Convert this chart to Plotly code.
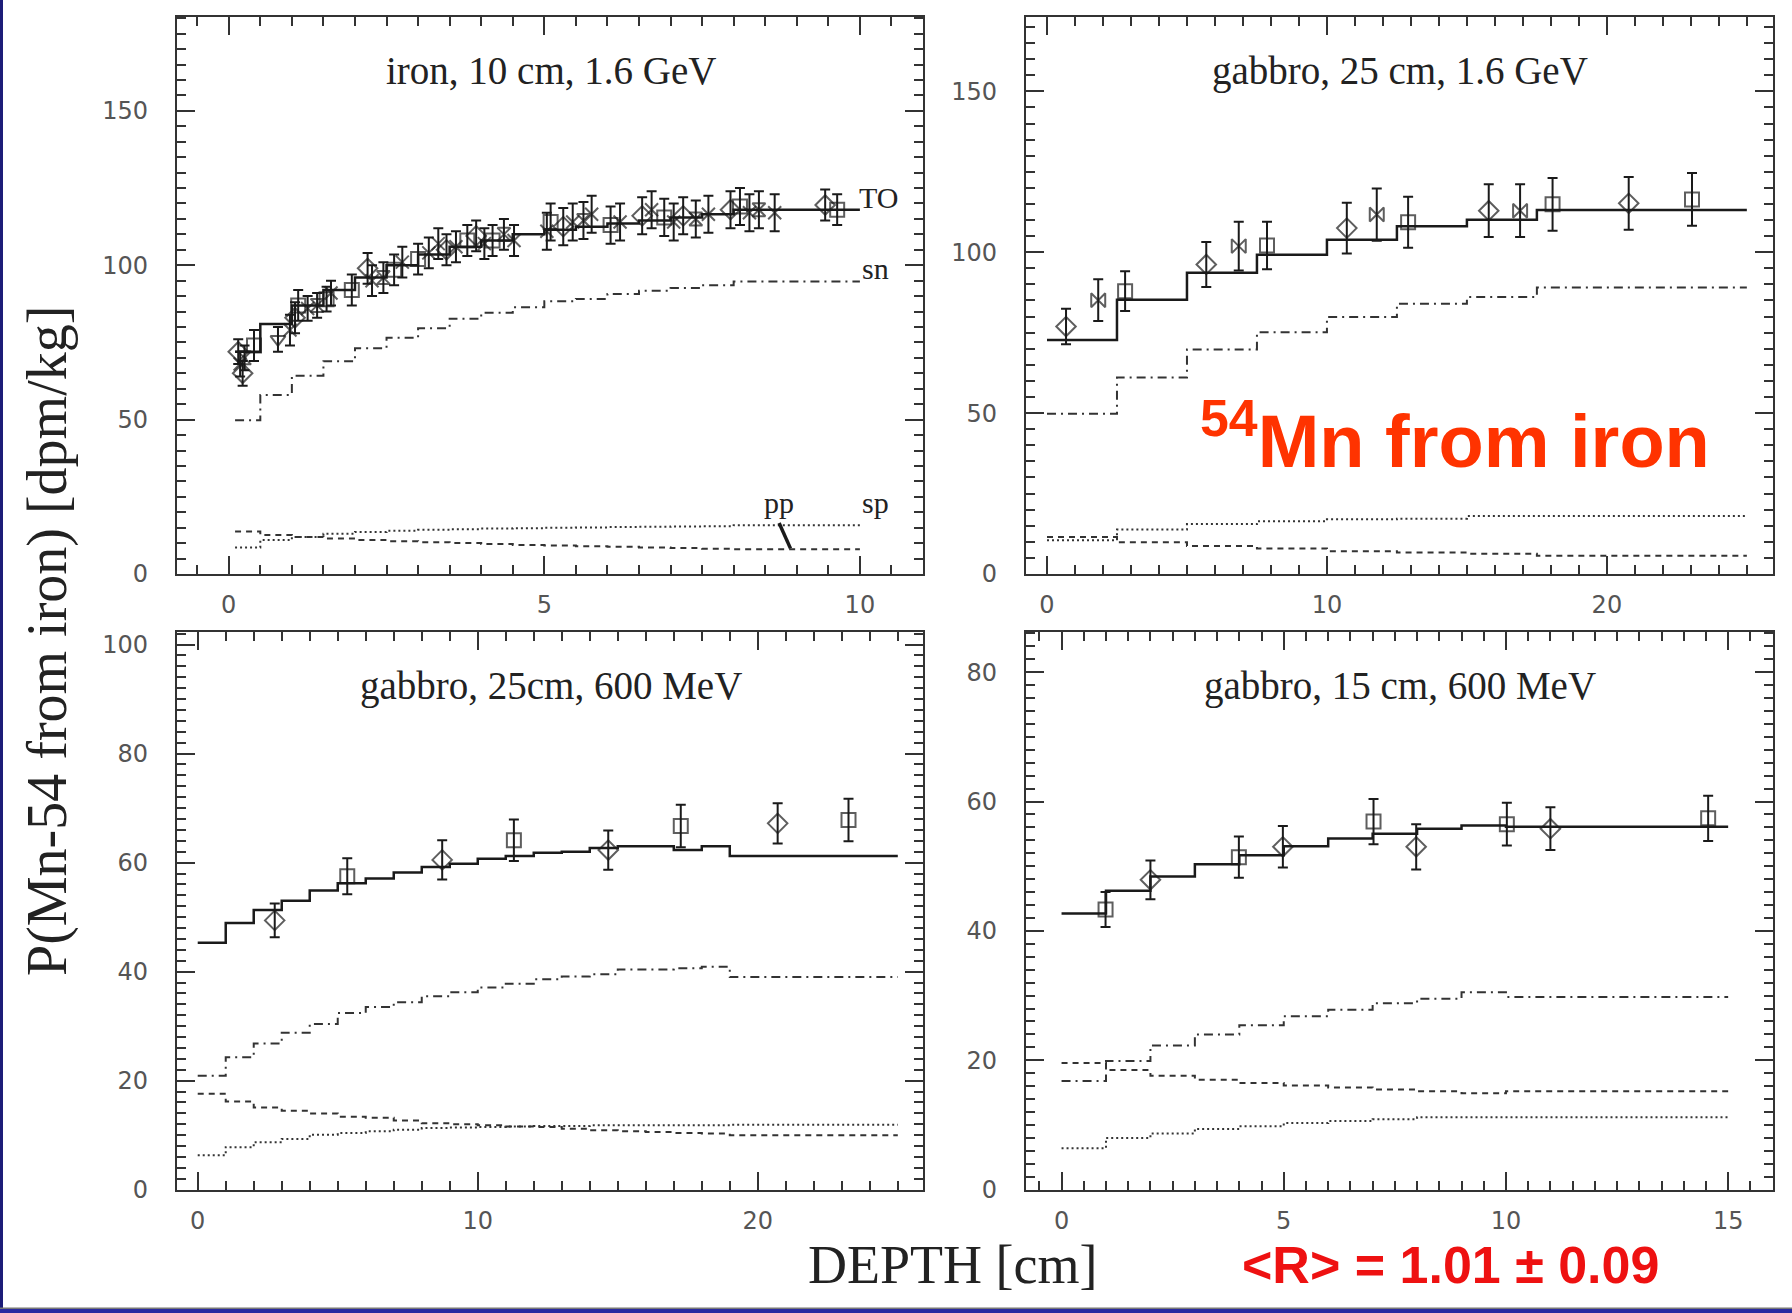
import plotly.graph_objects as go
from plotly.subplots import make_subplots

W, H = 1792, 1313

# ---------------- data ----------------
# Panel 1: iron, 10 cm, 1.6 GeV
edges1 = [0.1, 0.5, 1, 1.5, 2, 2.5, 3, 3.5, 4, 4.5, 5, 5.5, 6, 6.5, 7, 7.5, 8, 10]
to1 = [72, 81, 87, 92, 96, 100, 103.5, 106, 108, 110, 111.5, 112.5, 113.5, 114.5, 115.5, 116.5, 118]
sn1 = [49.8, 58, 64.2, 68.9, 73.1, 76.5, 79.6, 82.7, 84.6, 86.4, 88.3, 89.1, 90.7, 91.7, 92.6, 93.5, 94.7]
pp1 = [13.8, 12.6, 12.0, 11.5, 11.0, 10.6, 10.3, 10.0, 9.7, 9.4, 9.2, 9.0, 8.8, 8.6, 8.4, 8.2, 8.0]
sp1 = [8.6, 11.0, 12.0, 13.0, 13.6, 14.0, 14.3, 14.5, 14.7, 14.8, 15.0, 15.1, 15.2, 15.3, 15.4, 15.5, 15.8]
px1 = [0.15, 0.18, 0.22, 0.25, 0.4, 0.78, 0.97, 1.05, 1.1, 1.25, 1.4, 1.55, 1.62, 1.95, 2.2, 2.27,
       2.45, 2.62, 2.75, 3.0, 3.17, 3.32, 3.45, 3.6, 3.78, 3.92, 4.05, 4.18, 4.36, 4.52, 5.04, 5.1,
       5.3, 5.45, 5.62, 5.75, 6.05, 6.2, 6.55, 6.7, 6.9, 7.05, 7.2, 7.4, 7.6, 7.95, 8.1, 8.25, 8.4,
       8.65, 9.45, 9.64]
py1 = [72, 68, 65, 70, 74, 76, 79, 83, 87, 86, 87, 89, 91, 92, 99, 95,
       96, 98.5, 101, 102, 104, 107, 105, 106, 108, 109.5, 107, 108, 110, 108, 111, 114,
       112.5, 114, 114.5, 116.5, 113, 114, 116, 118, 115.5, 114, 116, 115, 116.5, 118, 119, 117, 118,
       117, 119.5, 118]
pe1 = [4, 4, 4, 4, 5, 4, 5, 5, 5, 4, 4, 4, 4, 5, 5, 5,
       5, 5, 5, 5, 5, 5, 5, 5, 5, 5, 5, 5, 5, 5, 6, 6,
       6, 6, 6, 6, 6, 6, 6, 6, 6, 6, 6, 6, 6, 6, 6, 6, 6,
       6, 5, 5]
pk1 = ["D", "X", "D", "H", "S", "T", "X", "D", "S", "X", "H", "S", "X", "S", "D", "X",
       "H", "S", "X", "S", "X", "X", "D", "X", "S", "D", "X", "S", "H", "X", "X", "S",
       "D", "X", "H", "X", "S", "X", "D", "X", "S", "X", "D", "H", "X", "D", "S", "X", "H",
       "X", "D", "S"]

# Panel 2: gabbro, 25 cm, 1.6 GeV
edges2 = [0, 2.5, 5, 7.5, 10, 12.5, 15, 17.5, 25]
to2 = [72.7, 85.2, 93.6, 99.2, 103.9, 108.1, 110.1, 113.1]
sn2 = [49.8, 61.1, 69.8, 75.1, 79.9, 84.0, 86.1, 89.0]
pp2 = [11.5, 9.9, 8.7, 7.9, 7.1, 6.7, 6.3, 5.7]
sp2 = [10.5, 13.8, 15.5, 16.4, 17.0, 17.2, 18.0, 18.0]
px2 = [0.68, 1.83, 2.79, 5.69, 6.85, 7.86, 10.71, 11.78, 12.9, 15.78, 16.9, 18.06, 20.78, 23.04]
py2 = [76.9, 85.1, 87.9, 96.2, 101.9, 102.1, 107.5, 111.7, 109.3, 112.9, 112.9, 114.9, 115.2, 116.4]
pe2 = [5.5, 6.5, 6.2, 7.0, 7.6, 7.4, 7.9, 8.1, 7.9, 8.2, 8.2, 8.2, 8.2, 8.2]
pk2 = ["D", "B", "S", "D", "B", "S", "D", "B", "S", "D", "B", "S", "D", "S"]

# Panel 3: gabbro, 25cm, 600 MeV
edges3 = [0, 1, 2, 3, 4, 5, 6, 7, 8, 9, 10, 11, 12, 13, 14, 15, 16, 17, 18, 19, 25]
to3 = [45.3, 48.9, 51.3, 53.0, 54.9, 56.2, 57.1, 58.2, 59.2, 59.8, 60.7, 61.2, 61.8, 62.0, 62.7,
       63.0, 63.0, 62.3, 63.0, 61.2]
sn3 = [20.9, 24.3, 26.8, 28.8, 30.4, 32.4, 33.5, 34.4, 35.5, 36.2, 37.1, 37.8, 38.6, 39.1, 39.5,
       40.4, 40.4, 40.6, 40.9, 39.0]
pp3 = [17.6, 16.2, 15.1, 14.5, 14.0, 13.4, 13.2, 12.7, 12.2, 12.0, 11.8, 11.6, 11.5, 11.2, 10.9,
       10.7, 10.6, 10.4, 10.3, 10.0]
sp3 = [6.3, 7.8, 8.7, 9.3, 10.1, 10.4, 10.7, 11.0, 11.3, 11.4, 11.5, 11.6, 11.7, 11.7, 11.8,
       11.8, 11.8, 11.8, 11.8, 11.9]
px3 = [2.75, 5.34, 8.73, 11.29, 14.66, 17.25, 20.71, 23.24]
py3 = [49.4, 57.5, 60.5, 64.1, 62.3, 66.7, 67.2, 67.8]
pe3 = [3.1, 3.3, 3.6, 3.8, 3.6, 3.9, 3.7, 3.9]
pk3 = ["D", "S", "D", "S", "D", "S", "D", "S"]

# Panel 4: gabbro, 15 cm, 600 MeV
edges4 = [0, 1, 2, 3, 4, 5, 6, 7, 8, 9, 10, 15]
to4 = [42.7, 46.2, 48.4, 50.3, 51.7, 53.1, 54.3, 55.0, 55.8, 56.3, 56.1]
sn4 = [16.8, 19.9, 22.3, 24.0, 25.4, 26.8, 27.8, 28.8, 29.5, 30.5, 29.8]
pp4 = [19.6, 18.5, 17.6, 17.0, 16.5, 16.1, 15.8, 15.5, 15.2, 14.9, 15.2]
sp4 = [6.4, 8.0, 8.7, 9.4, 9.8, 10.3, 10.6, 10.9, 11.2, 11.2, 11.2]
px4 = [0.99, 2.0, 3.99, 4.98, 7.02, 7.98, 10.02, 11.0, 14.55]
py4 = [43.3, 47.9, 51.4, 53.0, 56.9, 53.0, 56.5, 55.8, 57.4]
pe4 = [2.7, 3.0, 3.2, 3.2, 3.5, 3.5, 3.3, 3.3, 3.5]
pk4 = ["S", "D", "S", "D", "S", "D", "S", "D", "S"]

titles = ["iron, 10 cm, 1.6 GeV", "gabbro, 25 cm, 1.6 GeV",
          "gabbro, 25cm, 600 MeV", "gabbro, 15 cm, 600 MeV"]
xranges = [[-0.82, 11.0], [-0.75, 25.92], [-0.74, 25.9], [-0.80, 16.0]]
yranges = [[0, 180.4], [0, 173.1], [0, 102.3], [0, 86.2]]
xmajor = [5, 10, 10, 5]
xminor = [0.5, 1, 1, 0.5]
ymajor = [50, 50, 20, 20]
yminor = [5, 5, 2, 2]

# ---------------- figure ----------------
fig = make_subplots(rows=2, cols=2)
panels = [(1, 1), (1, 2), (2, 1), (2, 2)]
sets = [
    (edges1, to1, sn1, pp1, sp1, px1, py1, pe1, pk1),
    (edges2, to2, sn2, pp2, sp2, px2, py2, pe2, pk2),
    (edges3, to3, sn3, pp3, sp3, px3, py3, pe3, pk3),
    (edges4, to4, sn4, pp4, sp4, px4, py4, pe4, pk4),
]
symmap = {"D": "diamond-open", "S": "square-open", "X": "x-thin-open",
          "H": "hourglass-open", "T": "triangle-down-open", "B": "bowtie-open"}
sizemap = {"D": 15, "S": 14, "X": 13, "H": 13, "T": 13, "B": 14}

def step(edges, vals):
    return list(edges), list(vals) + [vals[-1]]

for (r, c), (ed, to, sn, pp, sp, dx, dy, de, dk) in zip(panels, sets):
    for vals, dash, wd, col in [(sp, "2px,3px", 2.0, "#333"), (pp, "6px,5px", 2.0, "#333"),
                                (sn, "9px,5px,2px,5px", 2.0, "#333"), (to, "solid", 2.5, "#1a1a1a")]:
        xs, ys = step(ed, vals)
        fig.add_trace(go.Scatter(x=xs, y=ys, mode="lines", line_shape="hv",
                                 line=dict(color=col, width=wd, dash=dash),
                                 showlegend=False, hoverinfo="skip"), row=r, col=c)
    fig.add_trace(go.Scatter(
        x=dx, y=dy, mode="markers",
        marker=dict(symbol=[symmap[k] for k in dk], size=[sizemap[k] for k in dk],
                    color="#1a1a1a", line=dict(color="#1a1a1a", width=2.0)),
        error_y=dict(type="data", array=de, thickness=2.0, width=5, color="#1a1a1a"),
        showlegend=False), row=r, col=c)

# domains (pixel-derived)
xdom = [[177 / W, 923 / W], [1026 / W, 1772.6 / W], [177 / W, 923 / W], [1026 / W, 1772.6 / W]]
ydom = [[1 - 574 / H, 1 - 17 / H], [1 - 574 / H, 1 - 17 / H],
        [1 - 1189.7 / H, 1 - 632 / H], [1 - 1189.7 / H, 1 - 632 / H]]

tickfont = dict(family="DejaVu Sans", size=24, color="#555")
for i in range(4):
    xa = "xaxis" if i == 0 else f"xaxis{i+1}"
    ya = "yaxis" if i == 0 else f"yaxis{i+1}"
    fig.layout[xa].update(domain=xdom[i], range=xranges[i], tick0=0, dtick=xmajor[i],
                          ticks="inside", ticklen=18, tickwidth=1.8, tickcolor="#333",
                          showline=True, linewidth=2.2, linecolor="#333", mirror="ticks",
                          showgrid=False, zeroline=False, tickfont=tickfont,
                          ticklabelstandoff=8, automargin=False,
                          minor=dict(dtick=xminor[i], tick0=0, ticks="inside", ticklen=9,
                                     tickwidth=1.6, tickcolor="#333", showgrid=False))
    fig.layout[ya].update(domain=ydom[i], range=yranges[i], tick0=0, dtick=ymajor[i],
                          ticks="inside", ticklen=18, tickwidth=1.8, tickcolor="#333",
                          showline=True, linewidth=2.2, linecolor="#333", mirror="ticks",
                          showgrid=False, zeroline=False, tickfont=tickfont,
                          ticklabelstandoff=22, automargin=False,
                          minor=dict(dtick=yminor[i], tick0=0, ticks="inside", ticklen=9,
                                     tickwidth=1.6, tickcolor="#333", showgrid=False))

ann = []
title_pos = [(551, 71), (1400, 71), (551, 686), (1400, 686)]
for t, (x, y) in zip(titles, title_pos):
    ann.append(dict(x=x / W, y=1 - y / H, xref="paper", yref="paper", text=t, showarrow=False,
                    xanchor="center", yanchor="middle",
                    font=dict(family="Liberation Serif", size=39, color="#222")))

labfont = dict(family="Liberation Serif", size=30, color="#222")
for txt, x, y in [("TO", 9.95, 122), ("sn", 10.0, 99), ("pp", 8.45, 23), ("sp", 10.0, 23)]:
    ann.append(dict(x=x, y=y, xref="x", yref="y", text=txt, showarrow=False,
                    xanchor="left", yanchor="middle", font=labfont))

ann.append(dict(x=47 / W, y=1 - 641 / H, xref="paper", yref="paper",
                text="P(Mn-54 from iron) [dpm/kg]", textangle=-90, showarrow=False,
                xanchor="center", yanchor="middle",
                font=dict(family="Liberation Serif", size=56, color="#222")))
ann.append(dict(x=952 / W, y=1 - 1265 / H, xref="paper", yref="paper",
                text="DEPTH [cm]", showarrow=False, xanchor="center", yanchor="middle",
                font=dict(family="Liberation Serif", size=54, color="#222")))
ann.append(dict(x=1198 / W, y=1 - 436 / H, xref="paper", yref="paper",
                text="<sup>54</sup>Mn from iron", showarrow=False, xanchor="left",
                yanchor="middle",
                font=dict(family="Liberation Sans", size=74, color="#ff3300", weight="bold")))
ann.append(dict(x=1450 / W, y=1 - 1265 / H, xref="paper", yref="paper",
                text="&lt;R&gt; = 1.01 ± 0.09", showarrow=False, xanchor="center",
                yanchor="middle",
                font=dict(family="Liberation Sans", size=52, color="#ee1111", weight="bold")))

shapes = [
    dict(type="line", xref="x", yref="y", x0=8.72, y0=16.5, x1=8.9, y1=8.3,
         line=dict(color="#1a1a1a", width=3.5)),
    dict(type="rect", xref="paper", yref="paper", x0=0, x1=3 / W, y0=0, y1=1,
         line=dict(width=0), fillcolor="#1c1c78"),
    dict(type="rect", xref="paper", yref="paper", x0=0, x1=1, y0=0, y1=4 / H,
         line=dict(width=0), fillcolor="#2a2aa0"),
    dict(type="rect", xref="paper", yref="paper", x0=0, x1=1, y0=4 / H, y1=5.5 / H,
         line=dict(width=0), fillcolor="#777"),
]

fig.update_layout(width=W, height=H, margin=dict(l=0, r=0, t=0, b=0),
                  paper_bgcolor="white", plot_bgcolor="white",
                  annotations=ann, shapes=shapes, showlegend=False)

fig.write_html("out.html")
